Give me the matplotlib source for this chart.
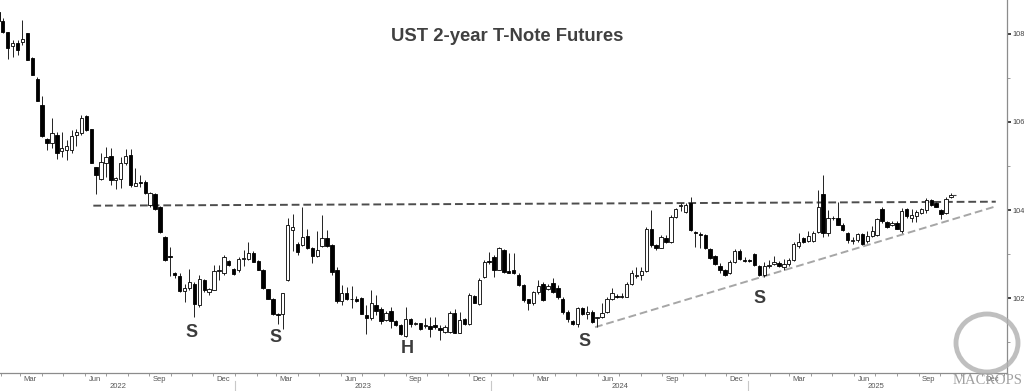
import numpy as np
import pandas as pd
import matplotlib
matplotlib.use('Agg')
import matplotlib.pyplot as plt
import matplotlib.dates as mdates
from matplotlib.patches import Ellipse
from matplotlib.transforms import blended_transform_factory

plt.rcParams['font.family'] = ['Liberation Sans', 'DejaVu Sans']

# weekly candles, Fridays from 2022-01-28 to 2025-10-17
weeks = pd.date_range('2022-01-28', periods=195, freq='W-FRI')

opens = [
    108.50, 108.30, 108.04, 107.73, 107.80, 107.81, 108.02, 107.46, 106.98, 106.39,
    105.62, 105.52, 105.70, 105.35, 105.36, 105.36, 105.70, 105.74, 106.14, 105.83,
    104.97, 104.70, 105.06, 105.23, 104.68, 104.70, 105.08, 105.25, 104.55, 104.63,
    104.64, 104.11, 104.36, 104.08, 103.38, 102.95, 102.56, 102.51, 102.17, 102.22,
    102.31, 101.84, 102.41, 102.14, 102.18, 102.62, 102.56, 102.84, 102.66, 102.63,
    102.90, 102.90, 103.02, 102.85, 102.65, 102.20, 101.99, 101.65, 101.64, 102.42,
    103.55, 103.24, 103.20, 103.42, 103.14, 102.96, 103.18, 103.36, 103.20, 102.65,
    101.94, 102.12, 101.99, 101.97, 102.01, 101.61, 101.54, 101.85, 101.75, 101.50,
    101.71, 101.48, 101.39, 101.14, 101.52, 101.41, 101.43, 101.36, 101.36, 101.39,
    101.33, 101.24, 101.24, 101.67, 101.21, 101.52, 101.41, 102.05, 101.86, 102.47,
    102.84, 102.94, 102.65, 103.09, 102.61, 102.64, 102.52, 102.30, 101.97, 101.88,
    102.13, 102.33, 102.20, 102.35, 102.23, 101.99, 101.69, 101.48, 101.42, 101.77,
    101.64, 101.69, 101.54, 101.58, 101.69, 101.97, 102.05, 102.03, 102.03, 102.32,
    102.50, 102.52, 102.62, 103.58, 103.20, 103.15, 103.37, 103.28, 103.85, 104.09,
    103.96, 104.17, 103.51, 103.45, 103.43, 103.11, 102.95, 102.73, 102.64, 102.56,
    102.83, 103.07, 102.86, 102.86, 103.00, 102.73, 102.52, 102.73, 102.77, 102.80,
    102.71, 102.78, 102.86, 103.18, 103.36, 103.30, 103.30, 103.51, 104.36, 103.47,
    103.81, 103.83, 103.67, 103.48, 103.30, 103.32, 103.45, 103.30, 103.41, 103.43,
    104.02, 103.73, 103.66, 103.70, 103.53, 104.02, 103.83, 103.86, 103.94, 104.00,
    104.23, 104.15, 104.00, 103.94, 104.29,
]
highs = [
    108.60, 108.36, 108.05, 107.86, 107.86, 108.32, 108.03, 107.47, 107.02, 106.58,
    105.63, 106.08, 105.78, 105.78, 105.59, 105.82, 105.83, 106.16, 106.16, 105.85,
    104.98, 105.29, 105.44, 105.40, 104.76, 105.21, 105.39, 105.39, 104.95, 104.80,
    104.68, 104.42, 104.38, 104.10, 103.40, 103.17, 102.60, 102.56, 102.33, 102.67,
    102.37, 102.52, 102.43, 102.24, 102.75, 102.75, 102.98, 102.86, 102.68, 102.94,
    103.09, 103.28, 103.06, 102.86, 102.66, 102.21, 102.00, 101.67, 102.12, 103.83,
    103.92, 103.28, 104.08, 103.58, 103.16, 103.52, 103.89, 103.55, 103.22, 102.71,
    102.30, 102.26, 102.27, 102.05, 102.03, 101.84, 102.18, 102.07, 101.80, 101.71,
    101.80, 101.50, 101.42, 101.79, 101.54, 101.46, 101.44, 101.55, 101.58, 101.58,
    101.39, 101.39, 101.70, 101.76, 101.69, 101.54, 102.11, 102.08, 102.45, 102.86,
    103.05, 102.98, 103.17, 103.11, 103.02, 103.02, 102.56, 102.31, 101.99, 102.17,
    102.41, 102.37, 102.31, 102.45, 102.29, 102.03, 101.73, 101.50, 101.80, 101.80,
    101.83, 101.73, 101.58, 101.88, 102.03, 102.22, 102.09, 102.11, 102.37, 102.64,
    102.70, 102.70, 103.62, 104.00, 103.22, 103.44, 103.44, 103.89, 104.05, 104.15,
    104.15, 104.30, 103.53, 103.50, 103.45, 103.13, 102.97, 102.79, 102.67, 102.86,
    103.11, 103.11, 102.94, 102.89, 103.03, 102.75, 102.82, 102.86, 102.95, 102.84,
    102.88, 102.92, 103.28, 103.47, 103.38, 103.52, 103.52, 104.45, 104.80, 104.00,
    103.86, 104.19, 103.70, 103.50, 103.38, 103.47, 103.48, 103.52, 103.64, 103.81,
    104.06, 103.76, 103.76, 103.76, 104.04, 104.04, 104.02, 104.00, 104.04, 104.27,
    104.25, 104.19, 104.02, 104.30, 104.39,
]
lows = [
    108.25, 108.02, 107.42, 107.48, 107.52, 107.75, 107.40, 107.06, 106.47, 105.67,
    105.36, 105.40, 105.15, 105.21, 105.14, 105.29, 105.46, 105.70, 105.80, 105.07,
    104.36, 104.68, 104.76, 104.57, 104.47, 104.49, 105.02, 104.53, 104.54, 104.53,
    104.37, 104.08, 104.00, 103.47, 102.84, 102.50, 102.46, 102.13, 101.92, 102.18,
    101.58, 101.80, 102.14, 102.07, 102.18, 102.42, 102.52, 102.73, 102.52, 102.59,
    102.72, 102.86, 102.82, 102.63, 102.21, 101.97, 101.61, 101.42, 101.29, 102.40,
    103.08, 102.98, 103.18, 103.11, 102.79, 102.94, 103.17, 103.17, 102.52, 101.88,
    101.84, 101.95, 101.77, 101.92, 101.63, 101.18, 101.50, 101.61, 101.42, 101.49,
    101.33, 101.37, 101.16, 101.12, 101.35, 101.38, 101.27, 101.33, 101.12, 101.31,
    101.05, 101.20, 101.20, 101.20, 101.20, 101.39, 101.39, 101.88, 101.84, 102.45,
    102.77, 102.47, 102.64, 102.58, 102.56, 102.54, 102.28, 101.92, 101.73, 101.84,
    102.09, 101.94, 102.18, 102.12, 101.99, 101.65, 101.46, 101.40, 101.35, 101.61,
    101.53, 101.44, 101.35, 101.56, 101.67, 101.95, 102.01, 102.00, 102.02, 102.30,
    102.46, 102.41, 102.60, 103.16, 103.09, 103.14, 103.26, 103.26, 103.83, 103.99,
    103.94, 103.53, 103.17, 103.15, 103.11, 102.90, 102.75, 102.56, 102.50, 102.54,
    102.80, 102.86, 102.82, 102.82, 102.73, 102.50, 102.48, 102.69, 102.75, 102.70,
    102.64, 102.72, 102.85, 103.15, 103.26, 103.28, 103.28, 103.49, 103.38, 103.41,
    103.77, 103.65, 103.53, 103.26, 103.23, 103.28, 103.20, 103.26, 103.39, 103.41,
    103.71, 103.60, 103.64, 103.56, 103.48, 103.83, 103.74, 103.74, 103.92, 103.94,
    104.09, 104.06, 103.80, 103.92, 104.27,
]
closes = [
    108.30, 108.04, 107.69, 107.80, 107.64, 107.89, 107.41, 107.07, 106.48, 105.68,
    105.52, 105.74, 105.29, 105.40, 105.46, 105.69, 105.77, 106.08, 105.82, 105.08,
    104.80, 105.10, 105.20, 104.68, 104.72, 105.06, 105.23, 104.58, 104.62, 104.61,
    104.39, 104.38, 104.03, 103.51, 102.86, 102.93, 102.52, 102.17, 102.22, 102.36,
    101.86, 102.43, 102.18, 102.20, 102.61, 102.64, 102.94, 102.75, 102.55, 102.90,
    102.92, 103.02, 102.83, 102.65, 102.22, 101.99, 101.65, 101.62, 102.11, 103.65,
    103.61, 103.05, 103.39, 103.13, 102.96, 103.09, 103.36, 103.18, 102.60, 101.94,
    102.11, 101.99, 101.97, 101.94, 101.65, 101.54, 101.90, 101.71, 101.48, 101.67,
    101.48, 101.39, 101.18, 101.52, 101.41, 101.44, 101.31, 101.38, 101.31, 101.35,
    101.27, 101.35, 101.67, 101.21, 101.50, 101.41, 102.08, 101.89, 102.41, 102.83,
    102.81, 102.65, 103.13, 102.60, 102.58, 102.56, 102.30, 101.95, 101.89, 102.14,
    102.28, 101.95, 102.28, 102.14, 102.03, 101.69, 101.52, 101.42, 101.77, 101.65,
    101.69, 101.46, 101.58, 101.67, 101.97, 102.11, 102.03, 102.05, 102.33, 102.58,
    102.52, 102.62, 103.58, 103.20, 103.15, 103.38, 103.28, 103.85, 104.02, 104.11,
    104.11, 103.55, 103.48, 103.43, 103.13, 102.92, 102.77, 102.64, 102.52, 102.83,
    103.08, 102.88, 102.84, 102.85, 102.75, 102.52, 102.73, 102.76, 102.82, 102.73,
    102.77, 102.86, 103.24, 103.28, 103.28, 103.41, 103.48, 104.08, 103.48, 103.81,
    103.83, 103.66, 103.55, 103.32, 103.33, 103.45, 103.23, 103.41, 103.53, 103.79,
    103.76, 103.62, 103.70, 103.58, 103.98, 103.86, 103.89, 103.96, 104.02, 104.23,
    104.11, 104.08, 103.92, 104.24, 104.34,
]

# annotation lines (date, level)
resistance_dates = ['2022-06-13', '2025-12-20']
resistance_levels = [104.10, 104.19]
support_dates = ['2024-05-28', '2025-12-17']
support_levels = [101.34, 104.07]

# pattern labels
pattern_text = ['S', 'S', 'H', 'S', 'S']
pattern_dates = ['2022-10-31', '2023-02-27', '2023-09-04', '2024-05-13', '2025-01-17']
pattern_levels = [101.23, 101.10, 100.85, 101.02, 102.0]

title = 'UST 2-year T-Note Futures'

fig = plt.figure(figsize=(10.24, 3.91), dpi=100)
ax = fig.add_axes([0.0, 0.046, 0.9834, 0.954])

x = mdates.date2num(weeks)
o = np.array(opens)
h = np.array(highs)
l = np.array(lows)
c = np.array(closes)
up = c > o
body_lo = np.minimum(o, c)
body_h = np.maximum(np.abs(c - o), 0.02)

ax.vlines(x, l, h, color='#222222', lw=0.7, zorder=2)
ax.bar(x, body_h, bottom=body_lo, width=4.8,
       color=np.where(up, 'white', 'black'), edgecolor='black', linewidth=0.6, zorder=3)
# last price marker
ax.hlines(c[-1], x[-1] + 2.5, x[-1] + 8, color='#444444', lw=0.8, zorder=3)

ax.plot(mdates.date2num(pd.to_datetime(resistance_dates)), resistance_levels,
        ls=(0, (4, 2)), color='#4d4d4d', lw=1.4, zorder=1)
ax.plot(mdates.date2num(pd.to_datetime(support_dates)), support_levels,
        ls=(0, (4, 2)), color='#a6a6a6', lw=1.4, zorder=1)

for t, d, v in zip(pattern_text, pd.to_datetime(pattern_dates), pattern_levels):
    ax.text(mdates.date2num(d), v, t, ha='center', va='center', fontsize=13,
            fontweight='bold', color='#3c3c3c')

ax.set_xlim(mdates.date2num(pd.Timestamp('2022-01-31')), mdates.date2num(pd.Timestamp('2026-01-05')))
ax.set_ylim(100.30, 108.77)

# spines
for s in ['left', 'top']:
    ax.spines[s].set_visible(False)
for s in ['right', 'bottom']:
    ax.spines[s].set_color('#8c8c8c')
    ax.spines[s].set_linewidth(0.9)

# y axis on the right
ax.yaxis.tick_right()
ax.set_yticks([102, 104, 106, 108])
ax.set_yticks([101, 103, 105, 107], minor=True)
ax.tick_params(axis='y', which='major', length=3, width=1.3, color='#333333',
               labelsize=5.3, labelcolor='#444444', pad=1.2)
ax.tick_params(axis='y', which='minor', length=2, width=0.6, color='#8c8c8c')

# x axis: month ticks, quarterly labels, year labels
ax.xaxis.set_major_locator(mdates.MonthLocator())
ax.xaxis.set_major_formatter(plt.NullFormatter())
ax.tick_params(axis='x', which='major', length=2, width=0.6, color='#8c8c8c')
ax.xaxis.set_minor_locator(mdates.MonthLocator(bymonth=[3, 6, 9, 12], bymonthday=15))
ax.xaxis.set_minor_formatter(mdates.DateFormatter('%b'))
ax.tick_params(axis='x', which='minor', length=0, labelsize=5.5, labelcolor='#555555', pad=2)

trans = blended_transform_factory(ax.transData, ax.transAxes)
x0, x1 = ax.get_xlim()
years = [2022, 2023, 2024, 2025]
for yr in years:
    a = max(mdates.date2num(pd.Timestamp(f'{yr}-01-01')), x0)
    b = min(mdates.date2num(pd.Timestamp(f'{yr + 1}-01-01')), x1)
    ax.text((a + b) / 2, -0.036, str(yr), transform=trans, ha='center', va='center',
            fontsize=5.5, color='#555555', clip_on=False)
    if yr > 2022:
        ax.plot([a, a], [-0.022, -0.047], transform=trans, color='#c8c8c8', lw=0.8, clip_on=False)

ax.text(507 / 1007, 0.901, title, transform=ax.transAxes, ha='center', va='center',
        fontsize=13.3, fontweight='bold', color='#404040')

# watermark
fig.add_artist(Ellipse((987 / 1024, 1 - 343 / 391), 62 / 1024, 58 / 391, transform=fig.transFigure,
                       fill=False, ec='#b0b0b0', lw=3.5, alpha=0.8))
fig.text(988 / 1024, 1 - 381 / 391, 'MACROPS', ha='center', va='center', fontsize=10.5,
         family='Liberation Serif', color='#a0a0a0')

fig.savefig('out.png', dpi=100)
